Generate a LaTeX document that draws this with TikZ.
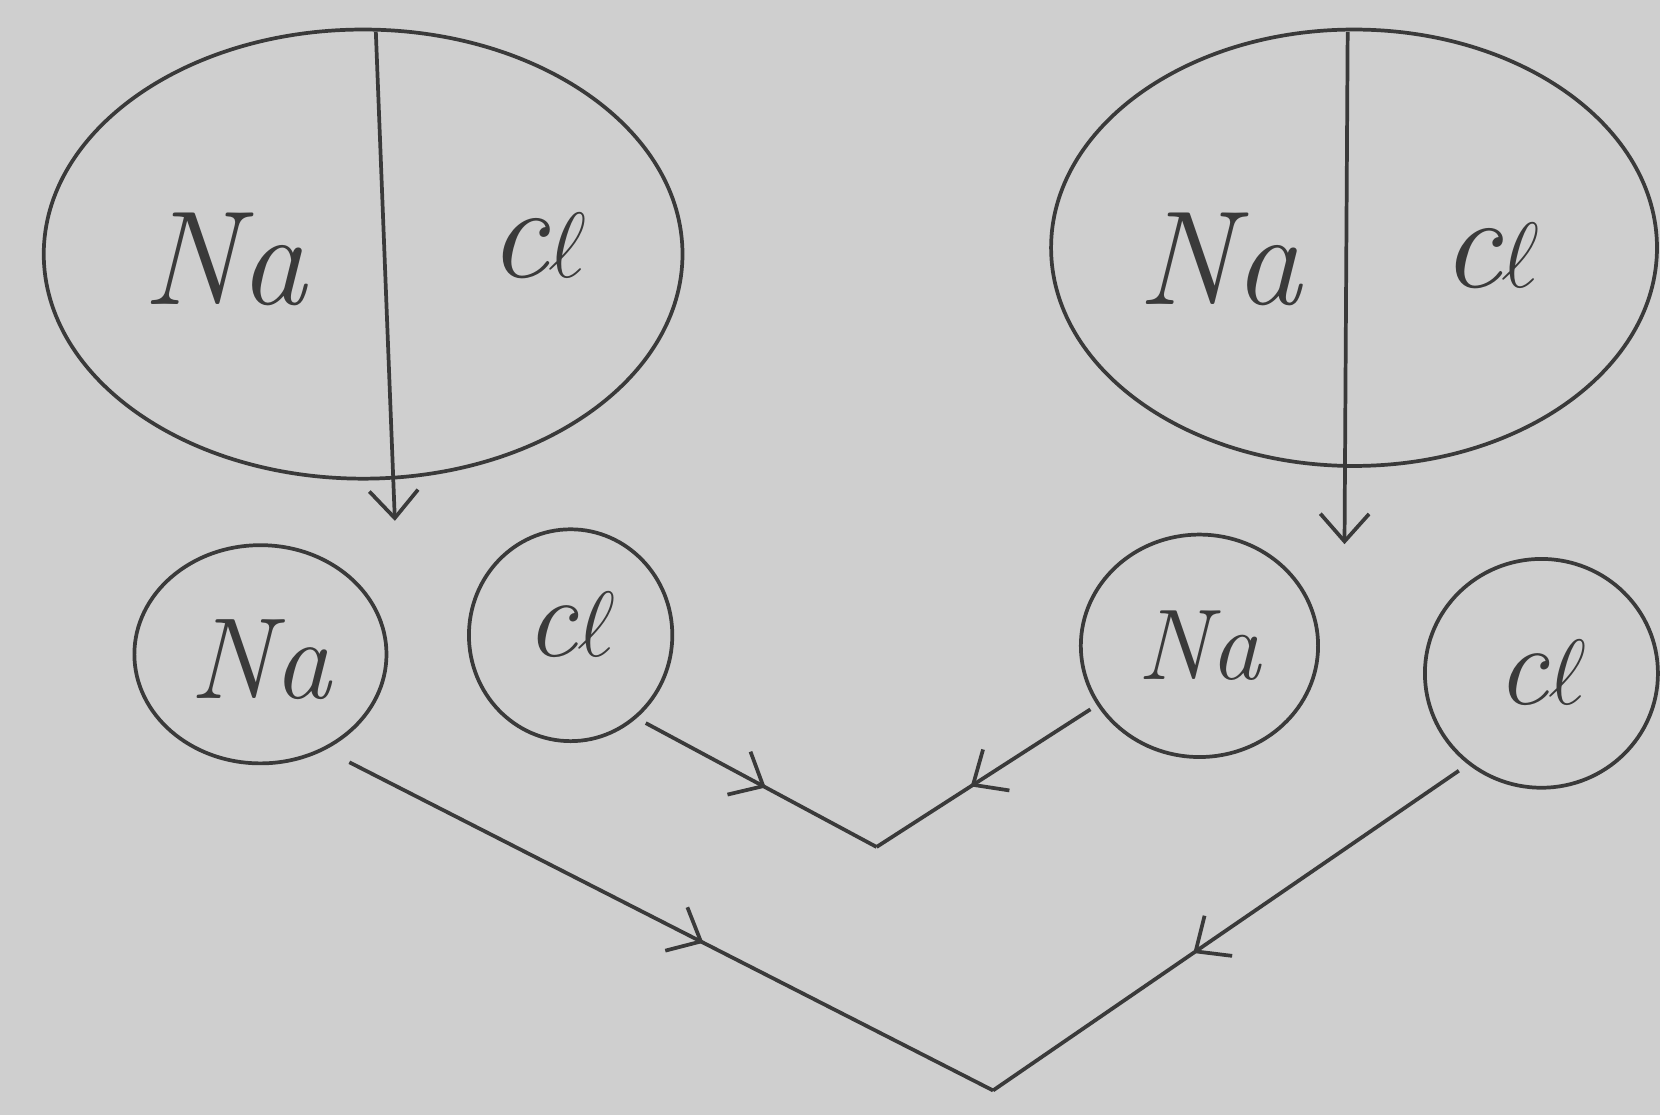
\documentclass[tikz,border=0pt]{standalone}
\usetikzlibrary{shapes.geometric,arrows.meta,decorations.markings}
\definecolor{paper}{HTML}{CFCFCF}
\definecolor{ink}{HTML}{3A3A3A}
\tikzset{
  blob/.style={draw=ink, line width=1pt, ellipse, inner sep=0pt},
  lbl/.style={text=ink, font=\fontsize{36}{42}\selectfont\itshape},
  slbl/.style={text=ink, font=\fontsize{31}{36}\selectfont\itshape},
  wire/.style={draw=ink, line width=1pt},
  midarrow/.style={postaction={decorate}, decoration={markings,
     mark=at position #1 with {\arrow{Straight Barb[length=2.6mm,width=4.6mm,line width=1pt]}}}}
}
\begin{document}
\begin{tikzpicture}[x=0.01cm,y=-0.01cm]
\fill[paper] (0,0) rectangle (1568,1053);
\useasboundingbox (0,0) rectangle (1568,1053);
% big ellipses
\node[blob, minimum width=6.03cm, minimum height=4.24cm] (L) at (343,240) {};
\node[blob, minimum width=5.72cm, minimum height=4.12cm] (R) at (1279,234) {};
% dividers
\coordinate (Ltop) at (355,30);
\coordinate (Lend) at (373,492);
\coordinate (Rtop) at (1273,30);
\coordinate (Rend) at (1270,514);
\draw[wire, -{Straight Barb[length=2.6mm,width=4.6mm,line width=1pt]}] (Ltop) -- (Lend);
\draw[wire, -{Straight Barb[length=2.6mm,width=4.6mm,line width=1pt]}] (Rtop) -- (Rend);
% labels in big ellipses
\node[lbl] (LNa) at (212,245) {Na};
\node[lbl] (LCl) at (508,232) {c$\ell$};
\node[lbl] (RNa) at (1152,245) {Na};
\node[lbl] (RCl) at (1408,242) {c$\ell$};
% small circles
\node[blob, minimum width=2.38cm, minimum height=2.06cm] (sLNa) at (246,618) {};
\node[blob, minimum width=1.92cm, minimum height=2.00cm] (sLCl) at (539,600) {};
\node[blob, minimum width=2.24cm, minimum height=2.10cm] (sRNa) at (1133,610) {};
\node[blob, minimum width=2.20cm, minimum height=2.16cm] (sRCl) at (1456,636) {};
\node[slbl] at ([yshift=-0.05cm]sLNa) {Na};
\node[slbl] at ([yshift=0.1cm]sLCl) {c$\ell$};
\node[slbl, font=\fontsize{27}{32}\selectfont\itshape] at (sRNa) {Na};
\node[slbl] at (sRCl) {c$\ell$};
% meeting points
\coordinate (V1) at (828,800);
\coordinate (V2) at (938,1030);
\coordinate (a1) at (610,683);
\coordinate (a2) at (1030,670);
\coordinate (b1) at (330,720);
\coordinate (b2) at (1378,728);
\draw[wire, midarrow=0.52] (a1) -- (V1);
\draw[wire, midarrow=0.56] (a2) -- (V1);
\draw[wire, midarrow=0.55] (b1) -- (V2);
\draw[wire, midarrow=0.57] (b2) -- (V2);
\end{tikzpicture}
\end{document}
